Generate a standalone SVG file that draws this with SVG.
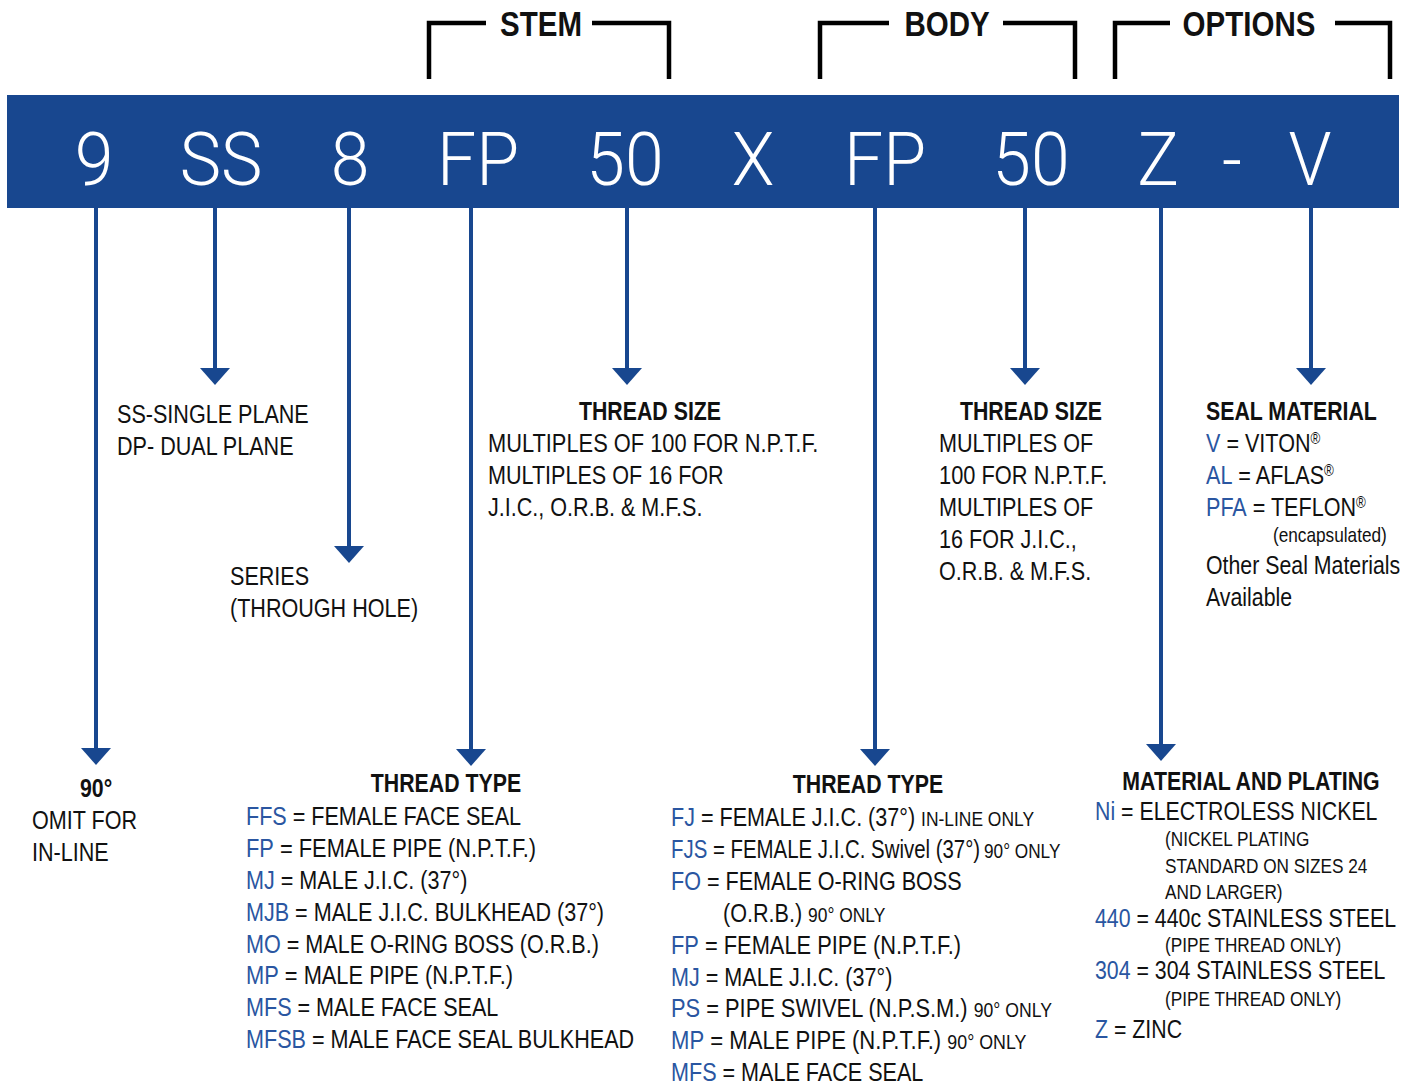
<svg xmlns="http://www.w3.org/2000/svg" width="1414" height="1084" viewBox="0 0 1414 1084">
<style>
text{font-family:"Liberation Sans",Arial,sans-serif;font-size:26px;fill:#111}
.b{font-weight:bold}
.s{font-size:21px}
.c{fill:#2a56a1}
.hd{font-weight:bold;font-size:36px;text-anchor:middle}
.bn{font-family:Roboto,"Liberation Sans",sans-serif;font-weight:300;font-size:75px;fill:#fff;text-anchor:middle}
.m{text-anchor:middle}
.br{fill:none;stroke:#000;stroke-width:4.5}
.cn{stroke:#18478f;stroke-width:4;fill:none}
.ah{fill:#18478f}
</style>
<defs>
<path id="ah" d="M-15,-17 L15,-17 L0,0 Z"/>
</defs>
<g id="brackets">
<path class="br" d="M429,79 V23 H486 M592,23 H669 V79"/>
<text class="hd" transform="translate(541 36) scale(.82 1)">STEM</text>
<path class="br" d="M820,79 V23 H889 M1003,23 H1075 V79"/>
<text class="hd" transform="translate(947 36) scale(.82 1)">BODY</text>
<path class="br" d="M1115,79 V23 H1170 M1335,23 H1390 V79"/>
<text class="hd" transform="translate(1249 36) scale(.82 1)">OPTIONS</text>
</g>
<g id="banner">
<rect x="7" y="95" width="1392" height="113" fill="#18478f"/>
<text class="bn" transform="translate(94 185) scale(.93 1)">9</text>
<text class="bn" transform="translate(221 185) scale(.93 1)">SS</text>
<text class="bn" transform="translate(350 185) scale(.93 1)">8</text>
<text class="bn" transform="translate(478 185) scale(.93 1)">FP</text>
<text class="bn" transform="translate(625 185) scale(.93 1)">50</text>
<text class="bn" transform="translate(753 185) scale(.93 1)">X</text>
<text class="bn" transform="translate(885 185) scale(.93 1)">FP</text>
<text class="bn" transform="translate(1031 185) scale(.93 1)">50</text>
<text class="bn" transform="translate(1158 185) scale(.93 1)">Z</text>
<text class="bn" transform="translate(1232 185) scale(.93 1)">-</text>
<text class="bn" transform="translate(1310 185) scale(.93 1)">V</text>
</g>
<g id="connectors">
<path class="cn" d="M96,208 V752 M215,208 V372 M349,208 V550 M471,208 V752 M627,208 V372 M875,208 V752 M1025,208 V372 M1161,208 V747 M1311,208 V372"/>
<use href="#ah" class="ah" x="96" y="765"/>
<use href="#ah" class="ah" x="215" y="385"/>
<use href="#ah" class="ah" x="349" y="563"/>
<use href="#ah" class="ah" x="471" y="766"/>
<use href="#ah" class="ah" x="627" y="385"/>
<use href="#ah" class="ah" x="875" y="766"/>
<use href="#ah" class="ah" x="1025" y="385"/>
<use href="#ah" class="ah" x="1161" y="761"/>
<use href="#ah" class="ah" x="1311" y="385"/>
</g>
<g id="n-plane">
<text transform="translate(117 423) scale(.83 1)">SS-SINGLE PLANE</text>
<text transform="translate(117 455) scale(.83 1)">DP- DUAL PLANE</text>
</g>
<g id="n-series">
<text transform="translate(230 585) scale(.83 1)">SERIES</text>
<text transform="translate(230 617) scale(.83 1)">(THROUGH HOLE)</text>
</g>
<g id="n-stem-size">
<text class="b m" transform="translate(650 420) scale(.82 1)">THREAD SIZE</text>
<text transform="translate(488 452) scale(.84 1)">MULTIPLES OF 100 FOR N.P.T.F.</text>
<text transform="translate(488 484) scale(.83 1)">MULTIPLES OF 16 FOR</text>
<text transform="translate(488 516) scale(.83 1)">J.I.C., O.R.B. &amp; M.F.S.</text>
</g>
<g id="n-body-size">
<text class="b m" transform="translate(1031 420) scale(.82 1)">THREAD SIZE</text>
<text transform="translate(939 452) scale(.83 1)">MULTIPLES OF</text>
<text transform="translate(939 484) scale(.84 1)">100 FOR N.P.T.F.</text>
<text transform="translate(939 516) scale(.83 1)">MULTIPLES OF</text>
<text transform="translate(939 548) scale(.83 1)">16 FOR J.I.C.,</text>
<text transform="translate(939 580) scale(.83 1)">O.R.B. &amp; M.F.S.</text>
</g>
<g id="n-seal">
<text class="b" transform="translate(1206 420) scale(.82 1)">SEAL MATERIAL</text>
<text transform="translate(1206 452) scale(.83 1)"><tspan class="c">V</tspan> = VITON<tspan font-size="16" dy="-8">®</tspan></text>
<text transform="translate(1206 484) scale(.83 1)"><tspan class="c">AL</tspan> = AFLAS<tspan font-size="16" dy="-8">®</tspan></text>
<text transform="translate(1206 516) scale(.83 1)"><tspan class="c">PFA</tspan> = TEFLON<tspan font-size="16" dy="-8">®</tspan></text>
<text class="s" transform="translate(1273 542) scale(.82 1)">(encapsulated)</text>
<text transform="translate(1206 574) scale(.82 1)">Other Seal Materials</text>
<text transform="translate(1206 606) scale(.82 1)">Available</text>
</g>
<g id="n-90">
<text class="b" transform="translate(80 797) scale(.82 1)">90°</text>
<text transform="translate(32 829) scale(.83 1)">OMIT FOR</text>
<text transform="translate(32 861) scale(.83 1)">IN-LINE</text>
</g>
<g id="n-stem-type">
<text class="b m" transform="translate(446 792) scale(.82 1)">THREAD TYPE</text>
<text transform="translate(246 825) scale(.83 1)"><tspan class="c">FFS</tspan> = FEMALE FACE SEAL</text>
<text transform="translate(246 857) scale(.84 1)"><tspan class="c">FP</tspan> = FEMALE PIPE (N.P.T.F.)</text>
<text transform="translate(246 889) scale(.83 1)"><tspan class="c">MJ</tspan> = MALE J.I.C. (37°)</text>
<text transform="translate(246 921) scale(.83 1)"><tspan class="c">MJB</tspan> = MALE J.I.C. BULKHEAD (37°)</text>
<text transform="translate(246 953) scale(.83 1)"><tspan class="c">MO</tspan> = MALE O-RING BOSS (O.R.B.)</text>
<text transform="translate(246 984) scale(.84 1)"><tspan class="c">MP</tspan> = MALE PIPE (N.P.T.F.)</text>
<text transform="translate(246 1016) scale(.83 1)"><tspan class="c">MFS</tspan> = MALE FACE SEAL</text>
<text transform="translate(246 1048) scale(.83 1)"><tspan class="c">MFSB</tspan> = MALE FACE SEAL BULKHEAD</text>
</g>
<g id="n-body-type">
<text class="b m" transform="translate(868 793) scale(.82 1)">THREAD TYPE</text>
<text transform="translate(671 826) scale(.83 1)"><tspan class="c">FJ</tspan> = FEMALE J.I.C. (37°) <tspan class="s">IN-LINE ONLY</tspan></text>
<text transform="translate(671 858) scale(.785 1)"><tspan class="c">FJS</tspan> = FEMALE J.I.C. Swivel (37°)</text>
<text class="s" transform="translate(984 858) scale(.82 1)">90° ONLY</text>
<text transform="translate(671 890) scale(.83 1)"><tspan class="c">FO</tspan> = FEMALE O-RING BOSS</text>
<text transform="translate(723 922) scale(.83 1)">(O.R.B.) <tspan class="s">90° ONLY</tspan></text>
<text transform="translate(671 954) scale(.84 1)"><tspan class="c">FP</tspan> = FEMALE PIPE (N.P.T.F.)</text>
<text transform="translate(671 986) scale(.83 1)"><tspan class="c">MJ</tspan> = MALE J.I.C. (37°)</text>
<text transform="translate(671 1017) scale(.84 1)"><tspan class="c">PS</tspan> = PIPE SWIVEL (N.P.S.M.) <tspan class="s">90° ONLY</tspan></text>
<text transform="translate(671 1049) scale(.85 1)"><tspan class="c">MP</tspan> = MALE PIPE (N.P.T.F.) <tspan class="s">90° ONLY</tspan></text>
<text transform="translate(671 1081) scale(.83 1)"><tspan class="c">MFS</tspan> = MALE FACE SEAL</text>
</g>
<g id="n-material">
<text class="b m" transform="translate(1251 790) scale(.82 1)">MATERIAL AND PLATING</text>
<text transform="translate(1095 820) scale(.82 1)"><tspan class="c">Ni</tspan> = ELECTROLESS NICKEL</text>
<text class="s" transform="translate(1165 846) scale(.82 1)">(NICKEL PLATING</text>
<text class="s" transform="translate(1165 873) scale(.82 1)">STANDARD ON SIZES 24</text>
<text class="s" transform="translate(1165 899) scale(.82 1)">AND LARGER)</text>
<text transform="translate(1095 927) scale(.82 1)"><tspan class="c">440</tspan> = 440c STAINLESS STEEL</text>
<text class="s" transform="translate(1165 952) scale(.82 1)">(PIPE THREAD ONLY)</text>
<text transform="translate(1095 979) scale(.82 1)"><tspan class="c">304</tspan> = 304 STAINLESS STEEL</text>
<text class="s" transform="translate(1165 1006) scale(.82 1)">(PIPE THREAD ONLY)</text>
<text transform="translate(1095 1038) scale(.82 1)"><tspan class="c">Z</tspan> = ZINC</text>
</g>
</svg>
